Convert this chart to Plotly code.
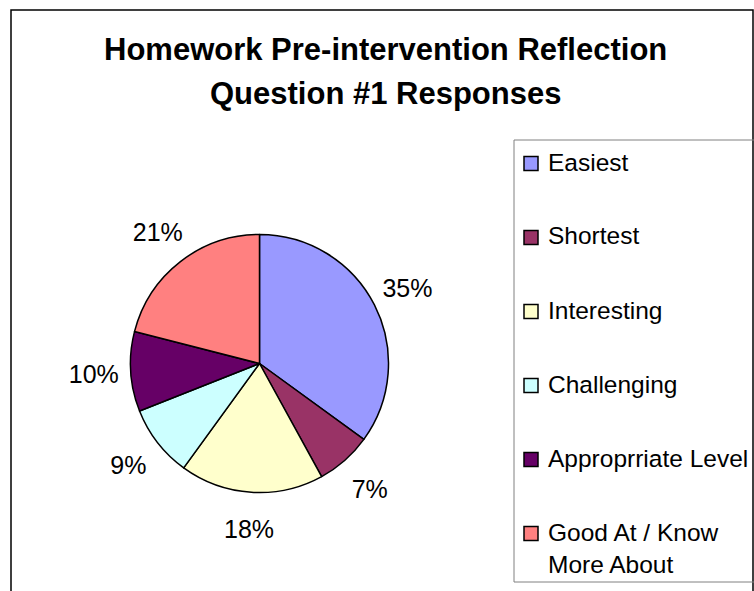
import plotly.graph_objects as go

# Survey responses (percent)
categories = ["Easiest", "Shortest", "Interesting", "Challenging",
              "Approprriate Level", "Good At / Know<br>More About"]
values = [35, 7, 18, 9, 10, 21]
colors = ["#9999FF", "#993366", "#FFFFCC", "#CCFFFF", "#660066", "#FF8080"]
title_lines = ["Homework Pre-intervention Reflection", "Question #1 Responses"]

W, H = 754, 591
font = "Liberation Sans, Arial, sans-serif"

cx, cy, r = 259.5, 363.5, 129   # pie centre / radius in px
rl = 203                        # outer radius of the (invisible) label ring


def dom(rad):
    return dict(x=[(cx - rad) / W, (cx + rad) / W],
                y=[1 - (cy + rad) / H, 1 - (cy - rad) / H])


fig = go.Figure()
fig.add_trace(go.Pie(
    labels=categories, values=values, sort=False,
    direction="clockwise", rotation=0,
    marker=dict(colors=colors, line=dict(color="black", width=1.5)),
    textinfo="none", showlegend=False, hoverinfo="skip",
    domain=dom(r),
))
# transparent ring around the pie that carries the percentage labels
fig.add_trace(go.Pie(
    labels=categories, values=values, sort=False,
    direction="clockwise", rotation=0, hole=r / rl,
    marker=dict(colors=["rgba(0,0,0,0)"] * len(values), line=dict(width=0)),
    textinfo="percent", textposition="inside",
    insidetextorientation="horizontal",
    textfont=dict(family=font, size=25, color="black"),
    showlegend=False, hoverinfo="skip",
    domain=dom(rl),
))

# chart frame and legend box
fig.add_shape(type="rect", xref="paper", yref="paper",
              x0=11 / W, x1=753 / W, y0=-0.02, y1=1 - 10 / H,
              line=dict(color="black", width=1.5))
fig.add_shape(type="rect", xref="paper", yref="paper",
              x0=514 / W, x1=1.01, y0=1 - 582 / H, y1=1 - 140 / H,
              line=dict(color="#808080", width=1))

# legend
for i, (name, col) in enumerate(zip(categories, colors)):
    yc = 163.5 + 74 * i
    fig.add_shape(type="rect", xref="paper", yref="paper",
                  x0=524 / W, x1=538 / W, y0=1 - (yc + 7) / H, y1=1 - (yc - 7) / H,
                  fillcolor=col, line=dict(color="black", width=1.5))
    fig.add_annotation(x=546 / W, y=1 - (yc - 17) / H, xref="paper", yref="paper",
                       text=name, showarrow=False, xanchor="left", yanchor="top",
                       align="left", font=dict(family=font, size=24.5, color="black"))

# title
for line, y in zip(title_lines, [50, 93]):
    fig.add_annotation(x=385 / W, y=1 - y / H, xref="paper", yref="paper",
                       text="<b>" + line + "</b>", showarrow=False,
                       xanchor="center", yanchor="middle",
                       font=dict(family=font, size=31, color="black"))

fig.update_layout(width=W, height=H, margin=dict(l=0, r=0, t=0, b=0),
                  paper_bgcolor="white", plot_bgcolor="white")

fig.write_html("out.html", config={"displayModeBar": False},
               post_script="document.body.style.margin='0';")
